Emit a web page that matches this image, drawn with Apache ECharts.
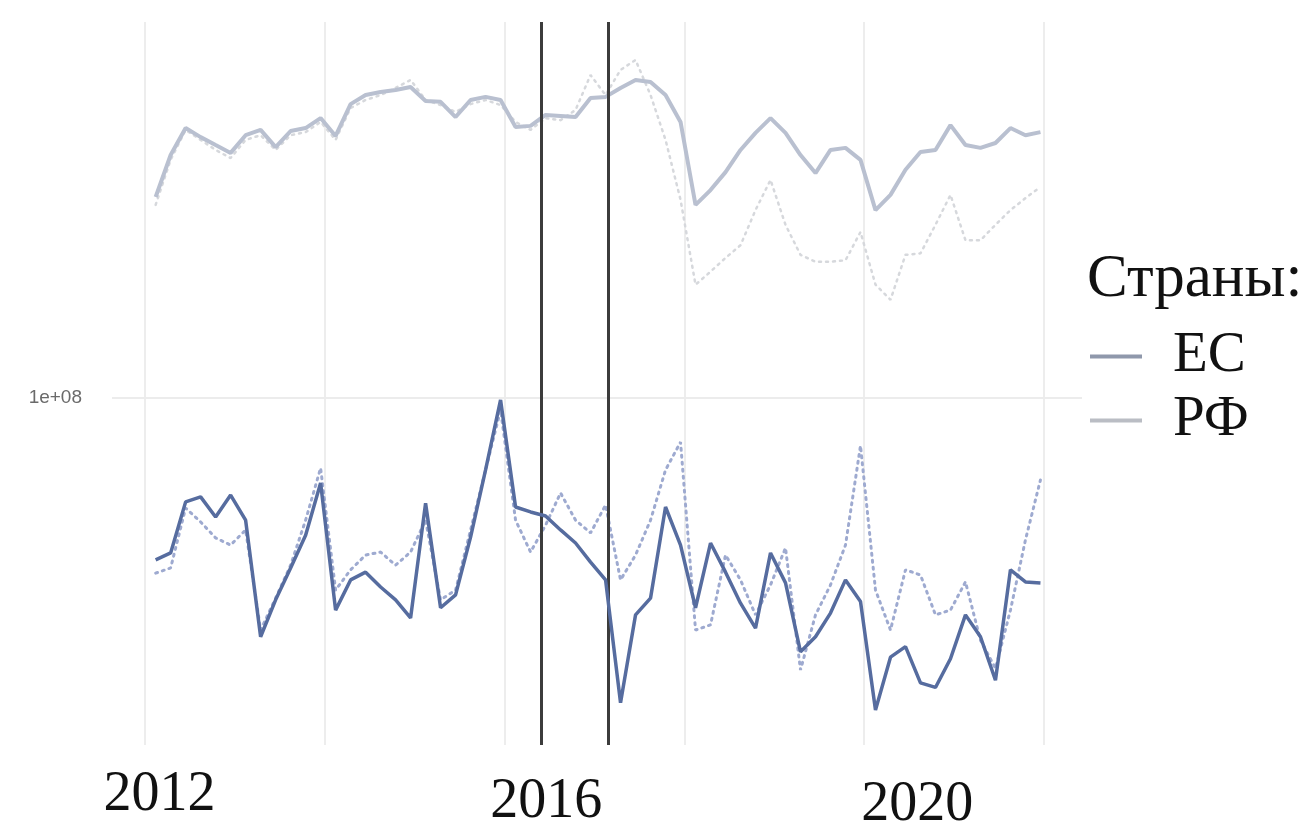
<!DOCTYPE html>
<html>
<head>
<meta charset="utf-8">
<script src="https://cdn.jsdelivr.net/npm/echarts@6/dist/echarts.min.js"></script>
<style>html,body{margin:0;padding:0;background:#fff}#c{width:1314px;height:823px}</style>
</head>
<body>
<div id="c"></div>
<script>
// Dates (every second month, 2012-02 … 2021-12)
var dates = [
 '2012-02','2012-04','2012-06','2012-08','2012-10','2012-12',
 '2013-02','2013-04','2013-06','2013-08','2013-10','2013-12',
 '2014-02','2014-04','2014-06','2014-08','2014-10','2014-12',
 '2015-02','2015-04','2015-06','2015-08','2015-10','2015-12',
 '2016-02','2016-04','2016-06','2016-08','2016-10','2016-12',
 '2017-02','2017-04','2017-06','2017-08','2017-10','2017-12',
 '2018-02','2018-04','2018-06','2018-08','2018-10','2018-12',
 '2019-02','2019-04','2019-06','2019-08','2019-10','2019-12',
 '2020-02','2020-04','2020-06','2020-08','2020-10','2020-12',
 '2021-02','2021-04','2021-06','2021-08','2021-10','2021-12'
];
// values in millions (100 = 1e+08)
var euUpper = [318,405,473,449,429,410,454,468,424,465,473,501,452,543,572,582,589,599,553,550,504,556,566,556,476,479,510,507,504,562,566,596,624,617,572,490,304,331,367,417,460,501,460,405,365,417,422,394,295,322,372,412,417,481,429,422,434,473,454,462];
var ruUpper = [304,394,468,442,417,398,442,454,417,454,462,490,442,531,556,572,596,624,556,540,519,543,556,540,490,468,501,495,525,642,572,661,700,572,442,313,192,207,224,241,295,351,271,228,219,219,221,260,192,176,228,230,271,322,248,248,271,295,316,337];
var euLower = [39.4,41.0,55.0,56.6,50.4,57.2,49.5,25.3,31.3,37.6,45.4,61.3,29.5,35.1,36.7,33.7,31.3,28.2,54.6,29.9,32.2,44.9,66.1,98.9,53.4,51.9,50.7,46.8,43.4,38.9,35.1,17.3,28.7,31.6,53.4,42.9,29.9,43.4,36.7,30.7,26.6,41.0,34.5,23.2,25.3,29.0,35.1,31.0,16.6,22.5,23.9,19.4,18.9,22.3,28.7,25.3,19.7,37.2,34.7,34.5];
var ruLower = [36.5,37.6,53.1,49.0,44.7,42.9,46.8,26.3,31.6,38.2,49.5,66.8,33.1,37.2,40.5,41.2,38.2,41.2,49.5,31.3,33.1,46.8,66.1,93.3,49.5,41.2,48.1,57.9,49.5,46.0,54.0,35.1,40.5,49.5,66.1,77.6,26.3,27.1,40.5,35.1,28.7,34.1,42.2,20.9,28.7,34.1,42.9,76.0,33.1,26.3,37.2,36.1,28.7,29.5,34.7,24.8,21.1,29.5,44.2,62.4];
var eventLines = [2016.41, 2017.15];
var gridYears = [2012, 2014, 2016, 2018, 2020, 2022];
var labelYears = [2012, 2016, 2020];
var yRef = 100;

function toX(d) { var p = d.split('-'); return +p[0] + (+p[1] - 0.5) / 12; }
function pairs(vals) { return vals.map(function (v, i) { return [toX(dates[i]), v]; }); }

var chart = echarts.init(document.getElementById('c'), null, {renderer: 'canvas'});
chart.setOption({
  animation: false,
  backgroundColor: '#ffffff',
  title: {
    text: 'Страны:', left: 1082, top: 244,
    textStyle: {fontFamily: 'Liberation Serif', fontSize: 61, fontWeight: 'normal', color: '#111'}
  },
  legend: {
    orient: 'vertical', left: 1085, top: 323, itemGap: 7,
    itemWidth: 52, itemHeight: 4, icon: 'rect',
    textStyle: {fontFamily: 'Liberation Serif', fontSize: 57, color: '#111', lineHeight: 56, padding: [0, 0, 0, 26]},
    data: [
      {name: 'ЕС', itemStyle: {color: '#8f98ab'}},
      {name: 'РФ', itemStyle: {color: '#babdc4'}}
    ]
  },
  grid: {left: 112, right: 232, top: 22, bottom: 78, containLabel: false, outerBoundsMode: 'none'},
  xAxis: {
    type: 'value', min: 2011.64, max: 2022.42,
    axisLine: {show: false},
    axisTick: {show: false, customValues: gridYears},
    splitLine: {show: true, lineStyle: {color: '#ededed', width: 2}},
    axisLabel: {
      customValues: labelYears, margin: 22,
      formatter: function (v) {
        if (v === 2012) return '{a|2012}';
        if (v === 2016) return '{b|2016}';
        if (v === 2020) return '{c|2020}';
        return '';
      },
      rich: {
        a: {fontFamily: 'Liberation Serif', fontSize: 56, color: '#111', padding: [0, 0, 0, 30]},
        b: {fontFamily: 'Liberation Serif', fontSize: 56, color: '#111', padding: [7, 0, 0, 84]},
        c: {fontFamily: 'Liberation Serif', fontSize: 56, color: '#111', padding: [10, 0, 0, 106]}
      }
    }
  },
  yAxis: {
    type: 'log', logBase: 10, min: 13.57, max: 871,
    axisLine: {show: false}, axisTick: {show: false},
    axisLabel: {show: false}, splitLine: {show: false}
  },
  series: [
    {
      name: 'РФ', type: 'line', data: pairs(ruUpper), symbol: 'none', z: 2,
      lineStyle: {color: '#d6d8dc', width: 2.5, type: [2, 5], cap: 'round'},
      markLine: {
        silent: true, symbol: ['none', 'none'], animation: false,
        lineStyle: {color: '#ececec', width: 2, type: 'solid'},
        label: {show: true, position: 'start', distance: 30, formatter: '1e+08',
                fontFamily: 'Liberation Sans', fontSize: 19, color: '#6a6a6a'},
        data: [{yAxis: yRef}]
      }
    },
    {
      name: 'ЕС', type: 'line', data: pairs(euUpper), symbol: 'none', z: 3,
      lineStyle: {color: '#b9c0d0', width: 4}
    },
    {
      name: 'РФ', type: 'line', data: pairs(ruLower), symbol: 'none', z: 4,
      lineStyle: {color: '#9eaad0', width: 3, type: [2, 5], cap: 'round'}
    },
    {
      name: 'ЕС', type: 'line', data: pairs(euLower), symbol: 'none', z: 5,
      lineStyle: {color: '#566c9f', width: 3.5},
      markLine: {
        silent: true, symbol: ['none', 'none'], animation: false,
        lineStyle: {color: '#3c3c3c', width: 3, type: 'solid'},
        label: {show: false},
        data: eventLines.map(function (x) { return {xAxis: x}; })
      }
    }
  ]
});
</script>
</body>
</html>
